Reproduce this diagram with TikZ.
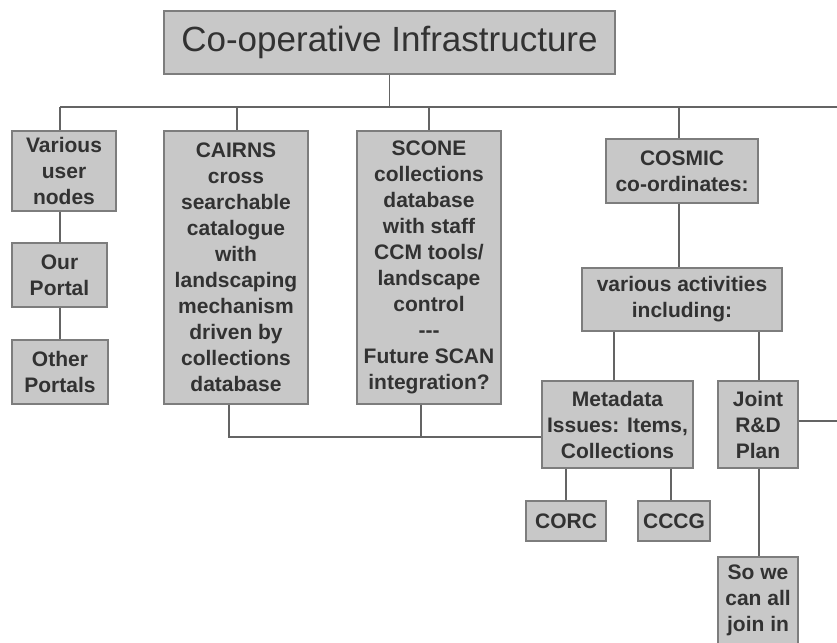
\documentclass[tikz,border=0pt]{standalone}
\usepackage{fontspec}
\setmainfont{Liberation Sans}
\begin{document}
\begin{tikzpicture}[x=1pt,y=-1pt,
  box/.style={draw=boxline, fill=boxfill, line width=1.3pt, text=boxtext,
    align=center, inner sep=0pt, font=\fontsize{21}{26}\selectfont\bfseries},
  link/.style={draw=linkc, line width=1.3pt}]
\definecolor{boxfill}{RGB}{200,200,200}
\definecolor{boxline}{RGB}{125,125,125}
\definecolor{boxtext}{RGB}{50,50,50}
\definecolor{linkc}{RGB}{100,100,100}
\useasboundingbox (0,0) rectangle (837,642);
\clip (0,0) rectangle (837,642);
\fill[white] (0,0) rectangle (837,642);

\node[box, minimum width=451pt, minimum height=63pt, font=\fontsize{35}{40}\selectfont] (title) at (389.5,42.5) {Co-operative Infrastructure};

\node[box, minimum width=104pt, minimum height=80pt] (various) at (64,171) {Various\\user\\nodes};
\node[box, minimum width=95pt, minimum height=64pt] (portal) at (59.5,275) {Our\\Portal};
\node[box, minimum width=96pt, minimum height=64pt] (other) at (60,372) {Other\\Portals};

\node[box, minimum width=144pt, minimum height=273pt] (cairns) at (236,267.5) {CAIRNS\\cross\\searchable\\catalogue\\with\\landscaping\\mechanism\\driven by\\collections\\database};
\node[box, minimum width=144pt, minimum height=273pt] (scone) at (429,267.5) {SCONE\\collections\\database\\with staff\\CCM tools/\\landscape\\control\\{-}{-}{-}\\Future SCAN\\integration?};

\node[box, minimum width=152pt, minimum height=64pt] (cosmic) at (682,171) {COSMIC\\co-ordinates:};
\node[box, minimum width=200pt, minimum height=63pt] (activities) at (682,299.5) {various activities\\including:};
\node[box, minimum width=151pt, minimum height=87pt] (meta) at (617.5,424.5) {Metadata\\Issues: Items,\\Collections};
\node[box, minimum width=80pt, minimum height=87pt] (joint) at (758,424.5) {Joint\\R\&D\\Plan};
\node[box, minimum width=80pt, minimum height=40pt] (corc) at (566,521) {CORC};
\node[box, minimum width=72pt, minimum height=40pt] (cccg) at (674,521) {CCCG};
\node[box, minimum width=80pt, minimum height=87pt] (sowe) at (758,600.5) {So we\\can all\\join in};

% bus coordinates
\coordinate (busL) at (60,107);
\coordinate (busR) at (837,107);
\coordinate (cairnsX) at (237,107);
\coordinate (sconeX) at (429,107);
\coordinate (cosmicX) at (679,107);
\coordinate (lowbus) at (229,437);
\coordinate (sconeB) at (421,437);
\coordinate (jointR) at (837,421);

\draw[link] (busL) -- (busR);
\draw[link] (title.south) -- (title.south |- busL);
\draw[link] (busL) -- (busL |- various.north);
\draw[link] (cairnsX) -- (cairnsX |- cairns.north);
\draw[link] (sconeX) -- (sconeX |- scone.north);
\draw[link] (cosmicX) -- (cosmicX |- cosmic.north);

\draw[link] (busL |- various.south) -- (busL |- portal.north);
\draw[link] (busL |- portal.south) -- (busL |- other.north);

\draw[link] (lowbus |- cairns.south) -- (lowbus) -- (meta.west |- lowbus);
\draw[link] (sconeB |- scone.south) -- (sconeB);

\draw[link] (cosmicX |- cosmic.south) -- (cosmicX |- activities.north);
\coordinate (actL) at (614,331);
\coordinate (actR) at (759,331);
\draw[link] (actL |- activities.south) -- (actL |- meta.north);
\draw[link] (actR |- activities.south) -- (actR |- joint.north);
\draw[link] (joint.east |- jointR) -- (jointR);

\coordinate (corcX) at (566,468);
\coordinate (cccgX) at (671,468);
\draw[link] (corcX |- meta.south) -- (corcX |- corc.north);
\draw[link] (cccgX |- meta.south) -- (cccgX |- cccg.north);
\draw[link] (actR |- joint.south) -- (actR |- sowe.north);
\end{tikzpicture}
\end{document}
